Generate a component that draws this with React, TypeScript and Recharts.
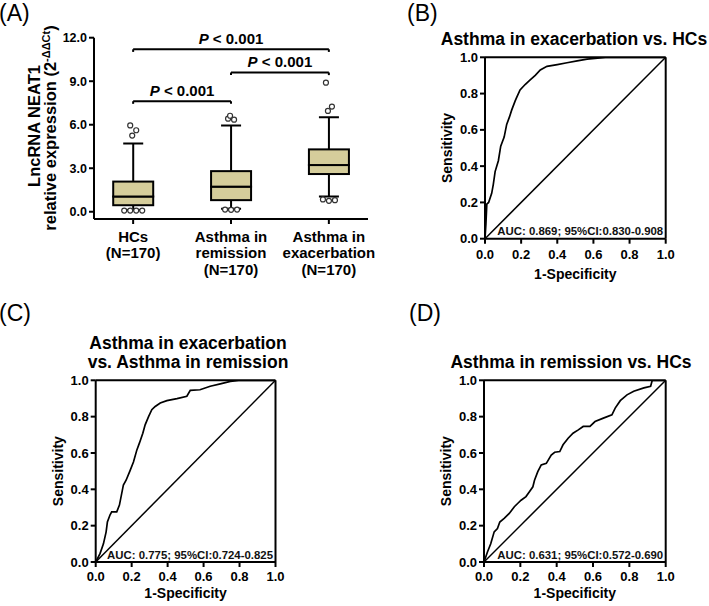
import React from 'react';
import { ComposedChart, LineChart, Line, Bar, XAxis, YAxis, ReferenceLine, ReferenceDot } from 'recharts';

const FONT = '"Liberation Sans", Arial, Helvetica, sans-serif';
const INK = '#000';
const BOX_FILL = '#d5cd9b';

// ---------------- Panel A data ----------------
const groupPos = [1, 2, 3];
const groupLabels = [
  ['HCs', '(N=170)'],
  ['Asthma in', 'remission', '(N=170)'],
  ['Asthma in', 'exacerbation', '(N=170)'],
];
const whiskerLow = [0.12, 0.2, 1.05];
const quartile1 = [0.45, 0.8, 2.6];
const medians = [1.05, 1.73, 3.22];
const quartile3 = [2.08, 2.8, 4.3];
const whiskerHigh = [4.7, 5.95, 6.52];
const outliersHigh = [
  [5.95, 5.62, 5.25],
  [6.42, 6.35, 6.62],
  [8.9, 7.25, 6.95],
];
const outliersLow = [
  [0.08, 0.08, 0.08, 0.08],
  [0.15, 0.13, 0.15],
  [0.85, 0.75, 0.8],
];
const yTicksA = [0, 3, 6, 9, 12];
const bracketFrom = [1, 2, 1];
const bracketTo = [3, 3, 2];
const bracketLevel = [11.2, 9.6, 7.62];
const bracketText = ['< 0.001', '< 0.001', '< 0.001'];

// ---------------- ROC data ----------------
const rocTicks = [0, 0.2, 0.4, 0.6, 0.8, 1.0];

const rocBFpr = [0, 0.005, 0.01, 0.02, 0.037, 0.046, 0.056, 0.074, 0.087, 0.106, 0.12, 0.135, 0.148, 0.167, 0.176, 0.194, 0.222, 0.25, 0.278, 0.306, 0.343, 0.4, 0.454, 0.51, 0.565, 0.667, 1];
const rocBTpr = [0, 0.08, 0.19, 0.2, 0.25, 0.3, 0.37, 0.43, 0.51, 0.56, 0.63, 0.67, 0.71, 0.76, 0.78, 0.82, 0.85, 0.875, 0.9, 0.93, 0.95, 0.96, 0.97, 0.98, 0.99, 1, 1];
const rocBAuc = 'AUC: 0.869; 95%CI:0.830-0.908';

const rocCFpr = [0, 0.024, 0.043, 0.058, 0.065, 0.08, 0.089, 0.117, 0.132, 0.154, 0.169, 0.19, 0.21, 0.229, 0.243, 0.262, 0.275, 0.294, 0.312, 0.331, 0.359, 0.396, 0.452, 0.507, 0.526, 0.58, 0.637, 0.693, 0.749, 0.795, 1];
const rocCTpr = [0, 0.046, 0.1, 0.166, 0.22, 0.26, 0.276, 0.276, 0.313, 0.424, 0.45, 0.5, 0.55, 0.617, 0.654, 0.709, 0.755, 0.8, 0.838, 0.856, 0.875, 0.888, 0.899, 0.912, 0.945, 0.948, 0.967, 0.98, 0.994, 1, 1];
const rocCAuc = 'AUC: 0.775; 95%CI:0.724-0.825';

const rocDFpr = [0, 0.019, 0.037, 0.056, 0.074, 0.087, 0.111, 0.139, 0.167, 0.185, 0.204, 0.231, 0.25, 0.269, 0.278, 0.296, 0.315, 0.343, 0.37, 0.389, 0.417, 0.435, 0.463, 0.49, 0.519, 0.546, 0.583, 0.611, 0.657, 0.704, 0.722, 0.75, 0.787, 0.824, 0.88, 0.917, 0.926, 1];
const rocDTpr = [0, 0.055, 0.1, 0.166, 0.184, 0.22, 0.24, 0.267, 0.304, 0.322, 0.34, 0.36, 0.387, 0.414, 0.45, 0.497, 0.534, 0.543, 0.589, 0.604, 0.608, 0.645, 0.681, 0.709, 0.727, 0.746, 0.746, 0.773, 0.792, 0.81, 0.847, 0.888, 0.92, 0.94, 0.958, 0.967, 1.0, 1];
const rocDAuc = 'AUC: 0.631; 95%CI:0.572-0.690';

// ---------------- helpers ----------------
const fmt1 = (v: number) => v.toFixed(1);

const boxRows = groupPos.map((pos, i) => ({
  pos,
  idx: i,
  base: whiskerLow[i],
  lowW: quartile1[i] - whiskerLow[i],
  lowBox: medians[i] - quartile1[i],
  highBox: quartile3[i] - medians[i],
  highW: whiskerHigh[i] - quartile3[i],
}));

const EmptyShape = () => <g />;

const Outlier = ({ cx, cy }: { cx: number; cy: number }) => (
  <circle cx={cx} cy={cy} r={2.5} fill="#fff" stroke="#333" strokeWidth={1.2} />
);

const LowWhiskerShape = (p: any) => {
  const { x, y, width, height, payload } = p;
  const cx = x + width / 2;
  const yb = y + height;
  const ppu = height / payload.lowW;
  const outs = outliersLow[payload.idx];
  return (
    <g>
      <line x1={cx} x2={cx} y1={y} y2={yb} stroke={INK} strokeWidth={2} />
      <line x1={cx - 10} x2={cx + 10} y1={yb} y2={yb} stroke={INK} strokeWidth={2} />
      {outs.map((v, k) => (
        <Outlier key={k} cx={cx + (k - (outs.length - 1) / 2) * 6} cy={yb + (whiskerLow[payload.idx] - v) * ppu} />
      ))}
    </g>
  );
};

const HIGH_JITTER = [-3, 3, -1, 1];
const HighWhiskerShape = (p: any) => {
  const { x, y, width, height, payload } = p;
  const cx = x + width / 2;
  const yb = y + height;
  const ppu = height / payload.highW;
  const outs = outliersHigh[payload.idx];
  return (
    <g>
      <line x1={cx} x2={cx} y1={y} y2={yb} stroke={INK} strokeWidth={2} />
      <line x1={cx - 10} x2={cx + 10} y1={y} y2={y} stroke={INK} strokeWidth={2} />
      {outs.map((v, k) => (
        <Outlier key={k} cx={cx + HIGH_JITTER[k % HIGH_JITTER.length]} cy={y - (v - whiskerHigh[payload.idx]) * ppu} />
      ))}
    </g>
  );
};

const BoxShape = (p: any) => {
  const { x, y, width, height } = p;
  return <rect x={x} y={y} width={width} height={height} fill={BOX_FILL} stroke={INK} strokeWidth={2} />;
};

const GroupTick = (props: any) => {
  const { x, y, payload } = props;
  const i = groupPos.indexOf(payload.value);
  const lines = i >= 0 ? groupLabels[i] : [];
  return (
    <text x={x} y={y} textAnchor="middle" fontFamily={FONT} fontSize={15} fontWeight={700} fill={INK}>
      {lines.map((l, k) => (
        <tspan key={k} x={x} dy={k === 0 ? 15.7 : 16.6}>
          {l}
        </tspan>
      ))}
    </text>
  );
};

const BracketText = ({ cx, cy, text }: { cx: number; cy: number; text: string }) => (
  <text x={cx} y={cy - 5.5} textAnchor="middle" fontFamily={FONT} fontSize={15} fontWeight={700} fill={INK}>
    <tspan fontStyle="italic">P</tspan>
    {' ' + text}
  </text>
);

const axisStroke = { stroke: INK, strokeWidth: 2 };

function PanelA() {
  return (
    <div style={{ position: 'absolute', left: 0, top: 0 }}>
      <ComposedChart width={385} height={290} data={boxRows} margin={{ top: 37.7, right: 17, bottom: 11, left: 34 }}>
        <XAxis
          dataKey="pos"
          type="number"
          domain={[0.6, 3.4]}
          ticks={groupPos}
          allowDataOverflow
          height={60}
          tickSize={5}
          tickMargin={2}
          axisLine={axisStroke}
          tickLine={axisStroke}
          tick={<GroupTick />}
        />
        <YAxis
          type="number"
          domain={[-0.5, 12]}
          ticks={yTicksA}
          allowDataOverflow
          width={60}
          tickSize={5}
          tickMargin={2}
          tickFormatter={fmt1}
          axisLine={axisStroke}
          tickLine={axisStroke}
          tick={{ fill: INK, fontSize: 12.5, fontWeight: 700, fontFamily: FONT }}
        />
        <Bar dataKey="base" stackId="box" barSize={40} shape={<EmptyShape />} isAnimationActive={false} />
        <Bar dataKey="lowW" stackId="box" barSize={40} shape={<LowWhiskerShape />} isAnimationActive={false} />
        <Bar dataKey="lowBox" stackId="box" barSize={40} shape={<BoxShape />} isAnimationActive={false} />
        <Bar dataKey="highBox" stackId="box" barSize={40} shape={<BoxShape />} isAnimationActive={false} />
        <Bar dataKey="highW" stackId="box" barSize={40} shape={<HighWhiskerShape />} isAnimationActive={false} />
        {bracketFrom.map((f, i) => (
          <ReferenceLine
            key={'h' + i}
            segment={[{ x: f, y: bracketLevel[i] }, { x: bracketTo[i], y: bracketLevel[i] }]}
            stroke={INK}
            strokeWidth={2}
            ifOverflow="visible"
          />
        ))}
        {bracketFrom.map((f, i) => (
          <ReferenceLine
            key={'l' + i}
            segment={[{ x: f, y: bracketLevel[i] }, { x: f, y: bracketLevel[i] - 0.18 }]}
            stroke={INK}
            strokeWidth={2}
            ifOverflow="visible"
          />
        ))}
        {bracketFrom.map((f, i) => (
          <ReferenceLine
            key={'r' + i}
            segment={[{ x: bracketTo[i], y: bracketLevel[i] }, { x: bracketTo[i], y: bracketLevel[i] - 0.18 }]}
            stroke={INK}
            strokeWidth={2}
            ifOverflow="visible"
          />
        ))}
        {bracketFrom.map((f, i) => (
          <ReferenceDot
            key={'t' + i}
            x={(f + bracketTo[i]) / 2}
            y={bracketLevel[i]}
            r={0}
            ifOverflow="visible"
            shape={(p: any) => <BracketText cx={p.cx} cy={p.cy} text={bracketText[i]} />}
          />
        ))}
      </ComposedChart>
    </div>
  );
}

type RocProps = {
  fpr: number[];
  tpr: number[];
  auc: string;
  left: number;
  top: number;
  width: number;
  height: number;
  margin: { top: number; right: number; bottom: number; left: number };
  xTickMargin: number;
  xLabelOffset: number;
  aucDy: number;
};

function RocPanel({ fpr, tpr, auc, left, top, width, height, margin, xTickMargin, xLabelOffset, aucDy }: RocProps) {
  const data = fpr.map((f, i) => ({ fpr: f, tpr: tpr[i] }));
  const tickStyle = { fill: INK, fontSize: 13, fontWeight: 700, fontFamily: FONT };
  return (
    <div style={{ position: 'absolute', left, top }}>
      <LineChart width={width} height={height} data={data} margin={margin}>
        <XAxis
          dataKey="fpr"
          type="number"
          domain={[0, 1]}
          ticks={rocTicks}
          allowDataOverflow
          height={40}
          tickSize={5}
          tickMargin={xTickMargin}
          tickFormatter={fmt1}
          axisLine={axisStroke}
          tickLine={axisStroke}
          tick={tickStyle}
          label={{ value: '1-Specificity', position: 'insideBottom', offset: xLabelOffset, fill: INK, fontSize: 14, fontWeight: 700, fontFamily: FONT }}
        />
        <YAxis
          type="number"
          domain={[0, 1]}
          ticks={rocTicks}
          allowDataOverflow
          width={50}
          tickSize={5}
          tickMargin={2}
          tickFormatter={fmt1}
          axisLine={axisStroke}
          tickLine={axisStroke}
          tick={tickStyle}
          label={{
            value: 'Sensitivity',
            angle: -90,
            position: 'insideLeft',
            offset: 12,
            fill: INK,
            fontSize: 14,
            fontWeight: 700,
            fontFamily: FONT,
            style: { textAnchor: 'middle' },
          }}
        />
        <ReferenceLine segment={[{ x: 0, y: 0 }, { x: 1, y: 1 }]} stroke={INK} strokeWidth={1.5} />
        <ReferenceLine x={1} stroke={INK} strokeWidth={2} />
        <ReferenceLine y={1} stroke={INK} strokeWidth={2} />
        <Line type="linear" dataKey="tpr" stroke={INK} strokeWidth={1.7} dot={false} isAnimationActive={false} />
        <ReferenceDot
          x={1}
          y={0}
          r={0}
          ifOverflow="visible"
          shape={(p: any) => (
            <text x={p.cx - 2.5} y={p.cy - aucDy} textAnchor="end" fontFamily={FONT} fontSize={11.4} fontWeight={700} fill="#111">
              {auc}
            </text>
          )}
        />
      </LineChart>
    </div>
  );
}

const titleStyle = { fontFamily: FONT, fontSize: 17.5, fontWeight: 700, fill: INK } as const;
const panelLabelStyle = { fontFamily: FONT, fontSize: 23, fill: INK } as const;

function Overlay() {
  return (
    <svg width={709} height={606} style={{ position: 'absolute', left: 0, top: 0, pointerEvents: 'none' }}>
      <text x={-1} y={20.5} {...panelLabelStyle}>(A)</text>
      <text x={407} y={20.5} {...panelLabelStyle}>(B)</text>
      <text x={-1} y={321} {...panelLabelStyle}>(C)</text>
      <text x={409} y={321} {...panelLabelStyle}>(D)</text>

      <text x={574} y={45} textAnchor="middle" {...titleStyle}>Asthma in exacerbation vs. HCs</text>
      <text x={188} y={349} textAnchor="middle" {...titleStyle}>Asthma in exacerbation</text>
      <text x={188} y={368.3} textAnchor="middle" {...titleStyle}>vs. Asthma in remission</text>
      <text x={571} y={368.3} textAnchor="middle" {...titleStyle}>Asthma in remission vs. HCs</text>

      <text x={40} y={126} transform="rotate(-90, 40, 126)" textAnchor="middle" fontFamily={FONT} fontSize={16.5} fontWeight={700} fill={INK}>
        LncRNA NEAT1
      </text>
      <text x={56} y={128} transform="rotate(-90, 56, 128)" textAnchor="middle" fontFamily={FONT} fontSize={16.5} fontWeight={700} fill={INK}>
        relative expression (2
        <tspan dy={-6.5} fontSize={11}>-ΔΔCt</tspan>
        <tspan dy={6.5}>)</tspan>
      </text>
    </svg>
  );
}

export default function App() {
  return (
    <div style={{ position: 'absolute', left: 0, top: 0, width: 709, height: 606, background: '#fff', overflow: 'hidden' }}>
      <PanelA />
      <RocPanel
        fpr={rocBFpr}
        tpr={rocBTpr}
        auc={rocBAuc}
        left={355}
        top={0}
        width={354}
        height={300}
        margin={{ top: 57.3, right: 43.3, bottom: 21.3, left: 80 }}
        xTickMargin={6}
        xLabelOffset={0}
        aucDy={3.7}
      />
      <RocPanel
        fpr={rocCFpr}
        tpr={rocCTpr}
        auc={rocCAuc}
        left={0}
        top={300}
        width={355}
        height={306}
        margin={{ top: 80.3, right: 79.5, bottom: 4, left: 45.7 }}
        xTickMargin={5}
        xLabelOffset={3.7}
        aucDy={3.3}
      />
      <RocPanel
        fpr={rocDFpr}
        tpr={rocDTpr}
        auc={rocDAuc}
        left={355}
        top={300}
        width={354}
        height={306}
        margin={{ top: 80.3, right: 43.3, bottom: 4, left: 79 }}
        xTickMargin={5}
        xLabelOffset={3.7}
        aucDy={3.3}
      />
      <Overlay />
    </div>
  );
}
